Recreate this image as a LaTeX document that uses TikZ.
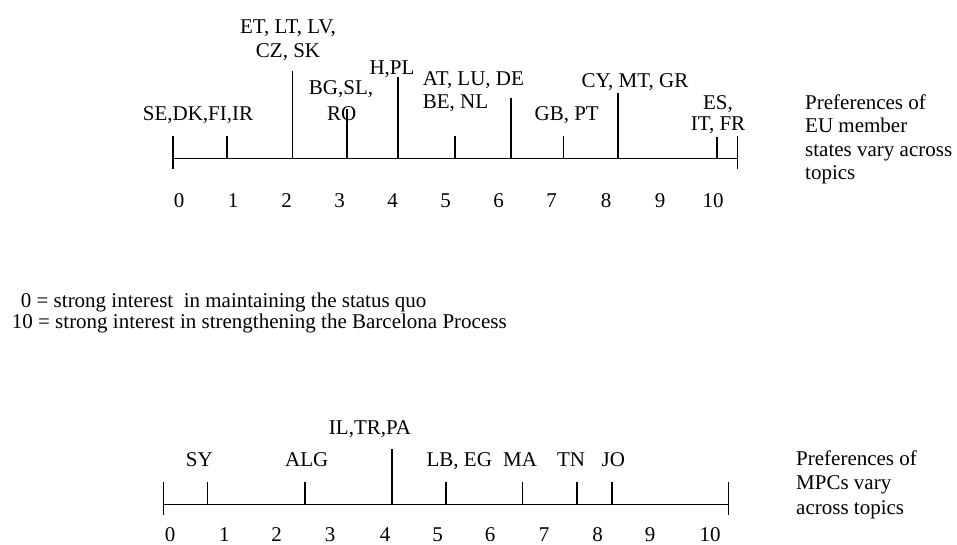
\documentclass[tikz,border=0pt]{standalone}
\usepackage{fontspec}
\setmainfont{Liberation Serif}
\begin{document}
\begin{tikzpicture}[x=1pt,y=-1pt,
  axisline/.style={line width=1.6pt},
  lbl/.style={font=\fontsize{21}{23}\selectfont, inner sep=0pt, anchor=base},
  lbll/.style={lbl, anchor=base west}]
\useasboundingbox (0,0) rectangle (957,544);

% ---------------- upper scale: EU member states ----------------
\coordinate (a0) at (173,158.3);
\coordinate (a10) at (737.5,158.3);
\draw[axisline] (a0) -- (a10);
\draw[axisline] (173,136) -- (173,169);
\draw[axisline] (737.5,136) -- (737.5,169);
% position markers
\foreach \nm/\x/\t in {t1/226.7/136, t2/292.3/71, t3/346.7/109, t4/397.7/77,
                       t5/455/136, t6/510.7/98, t7/563.3/136, t8/618/93, t9/716.7/137}
  \draw[axisline] (\x,158.3) coordinate (\nm b) -- (\x,\t) coordinate (\nm);

\node[lbl] (se) at (198,120.5) {SE,DK,FI,IR};
\node[lbl] (et) at (288,33.5) {ET, LT, LV,};
\node[lbl] (cz) at (288,57.3) {CZ, SK};
\node[lbl] (bg) at (341,94) {BG,SL,};
\node[lbl] (ro) at (341.7,120) {RO};
\node[lbl] (hpl) at (392,74) {H,PL};
\node[lbll] (at) at (422.7,85) {AT, LU, DE};
\node[lbll] (be) at (422.7,108.3) {BE, NL};
\node[lbl] (gb) at (566.7,120.7) {GB, PT};
\node[lbl] (cy) at (635,87.3) {CY, MT, GR};
\node[lbl] (es) at (718,109) {ES,};
\node[lbl] (it) at (718,130.7) {IT, FR};

\foreach \n/\x in {0/179,1/233,2/286.7,3/339.5,4/392.5,5/445.5,6/498.5,7/551.7,8/606,9/660,10/713}
  \node[lbl] (na\n) at (\x,207) {\n};

\node[lbll] (pa1) at (805,109) {Preferences of};
\node[lbll] (pa2) at (805,132.5) {EU member};
\node[lbll] (pa3) at (805,156) {states vary across};
\node[lbll] (pa4) at (805,179.5) {topics};

% ---------------- legend ----------------
\node[lbll] (lg0) at (20.7,307.7) {0 = strong interest\ \ in maintaining the status quo};
\node[lbll] (lg1) at (11.7,328.3) {10 = strong interest in strengthening the Barcelona Process};

% ---------------- lower scale: MPCs ----------------
\coordinate (b0) at (163.3,504.3);
\coordinate (b10) at (728.3,504.3);
\draw[axisline] (b0) -- (b10);
\draw[axisline] (163.3,481.7) -- (163.3,515);
\draw[axisline] (728.3,481.7) -- (728.3,515);
\foreach \nm/\x/\t in {u1/207.3/481.7, u2/305/481.7, u3/391.7/449.3, u4/446/481.7,
                       u5/522.3/481.7, u6/576.7/481.7, u7/611.7/481.7}
  \draw[axisline] (\x,504.3) coordinate (\nm b) -- (\x,\t) coordinate (\nm);

\node[lbl] (sy) at (199.3,466.7) {SY};
\node[lbl] (alg) at (306.7,466.7) {ALG};
\node[lbl] (il) at (370,434) {IL,TR,PA};
\node[lbl] (lb) at (459.3,466.7) {LB, EG};
\node[lbl] (ma) at (520,466.7) {MA};
\node[lbl] (tn) at (571,466.7) {TN};
\node[lbl] (jo) at (613.3,466.7) {JO};

\foreach \n/\x in {0/170,1/224.3,2/276.7,3/330,4/385,5/437.7,6/490,7/544,8/597.7,9/650,10/710}
  \node[lbl] (nb\n) at (\x,541.5) {\n};

\node[lbll] (pb1) at (796,465) {Preferences of};
\node[lbll] (pb2) at (796,489.5) {MPCs vary};
\node[lbll] (pb3) at (796,514) {across topics};
\end{tikzpicture}
\end{document}
